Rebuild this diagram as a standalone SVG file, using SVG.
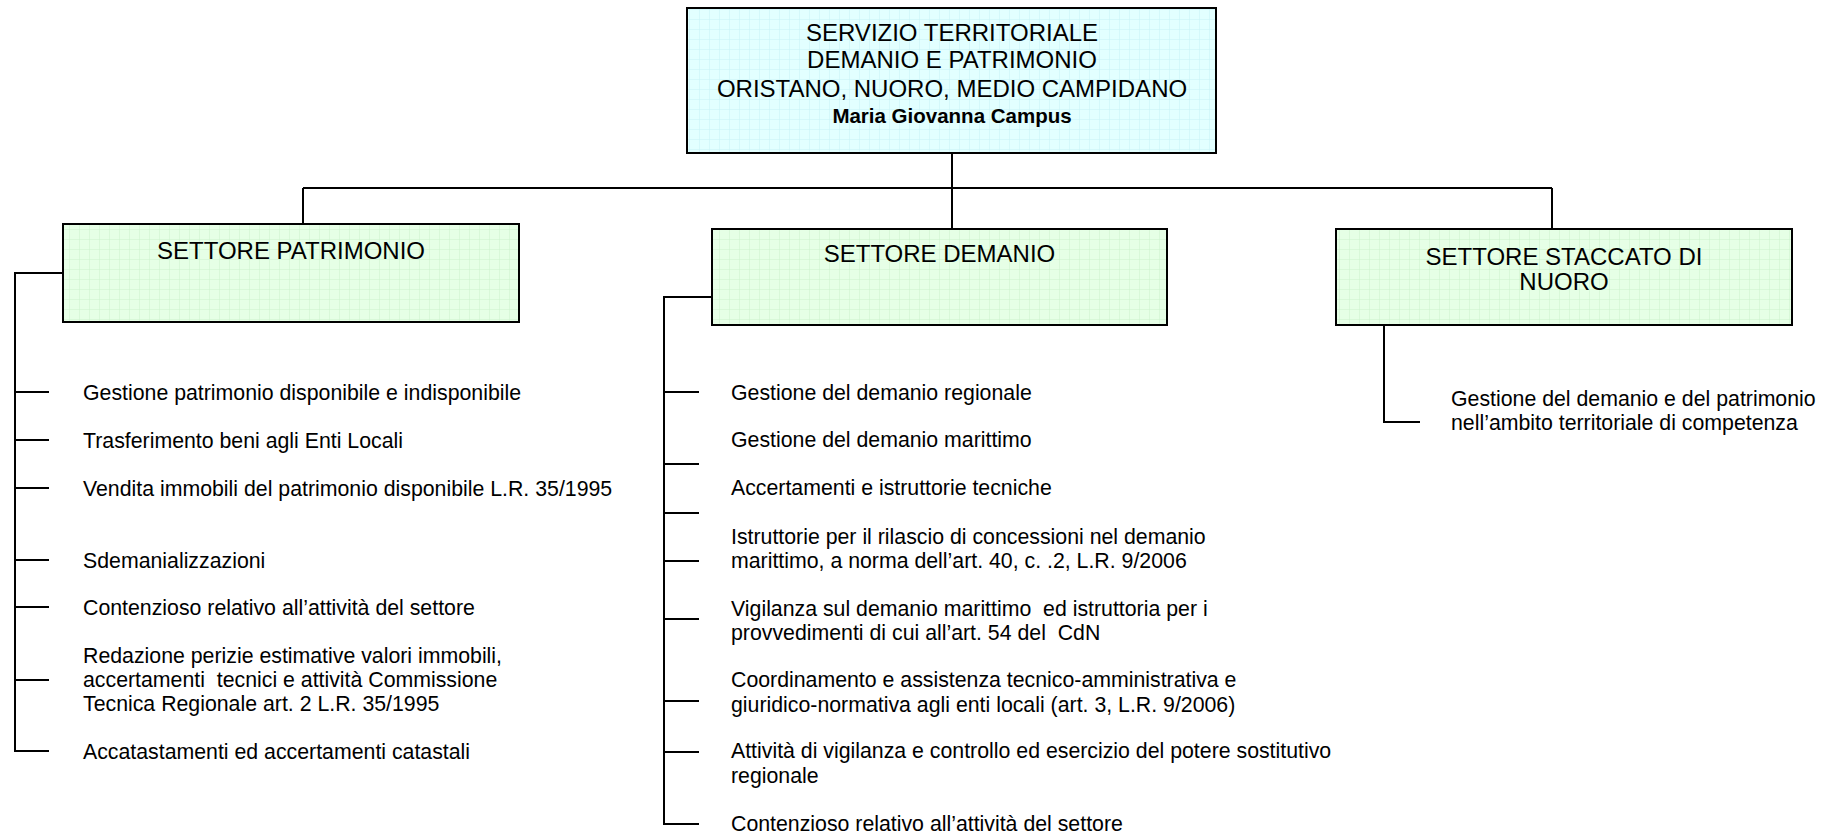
<svg xmlns="http://www.w3.org/2000/svg" width="1830" height="833" viewBox="0 0 1830 833">
<defs>
<pattern id="gridC" width="10" height="10" patternUnits="userSpaceOnUse">
<rect width="10" height="10" fill="#e2ffff"/>
<path d="M10 0V10M0 10H10" stroke="#c6f2f6" stroke-width="1" fill="none"/>
</pattern>
<pattern id="gridG" width="10" height="10" patternUnits="userSpaceOnUse">
<rect width="10" height="10" fill="#e6ffe6"/>
<path d="M10 0V10M0 10H10" stroke="#ccf2cc" stroke-width="1" fill="none"/>
</pattern>
<style>
.box{stroke:#000;stroke-width:2}
.t{font-family:"Liberation Sans",Arial,sans-serif;font-size:24px;fill:#000;text-anchor:middle}
.b{font-family:"Liberation Sans",Arial,sans-serif;font-size:20.5px;font-weight:bold;fill:#000;text-anchor:middle}
.i{font-family:"Liberation Sans",Arial,sans-serif;font-size:21.3px;fill:#000;white-space:pre}
.c{stroke:#000;stroke-width:2;fill:none}
</style>
</defs>
<rect width="1830" height="833" fill="#fff"/>
<g id="connectors">
<path class="c" d="M952 153V188M303 188H1552M303 188V224M952 188V229M1552 188V229"/>
<path class="c" d="M63 273H15V751H49M15 392H49M15 440H49M15 488H49M15 560H49M15 607H49M15 680H49"/>
<path class="c" d="M712 297H664V824H699M664 392H699M664 464H699M664 513H699M664 561H699M664 619H699M664 701H699M664 752H699"/>
<path class="c" d="M1384 324V422H1420"/>
</g>
<g id="servizio">
<rect class="box" x="687" y="8" width="529" height="145" fill="url(#gridC)"/>
<text class="t" x="952" y="40.5">SERVIZIO TERRITORIALE</text>
<text class="t" x="952" y="67.5">DEMANIO E PATRIMONIO</text>
<text class="t" x="952" y="96.5">ORISTANO, NUORO, MEDIO CAMPIDANO</text>
<text class="b" x="952" y="122.5">Maria Giovanna Campus</text>
</g>
<g id="settore-patrimonio">
<rect class="box" x="63" y="224" width="456" height="98" fill="url(#gridG)"/>
<text class="t" x="291" y="258.5">SETTORE PATRIMONIO</text>
</g>
<g id="settore-demanio">
<rect class="box" x="712" y="229" width="455" height="96" fill="url(#gridG)"/>
<text class="t" x="939.5" y="261.5">SETTORE DEMANIO</text>
</g>
<g id="settore-nuoro">
<rect class="box" x="1336" y="229" width="456" height="96" fill="url(#gridG)"/>
<text class="t" x="1564" y="264.5">SETTORE STACCATO DI</text>
<text class="t" x="1564" y="289.5">NUORO</text>
</g>
<g id="patrimonio-items" xml:space="preserve">
<text class="i" x="83" y="399.5">Gestione patrimonio disponibile e indisponibile</text>
<text class="i" x="83" y="447.5">Trasferimento beni agli Enti Locali</text>
<text class="i" x="83" y="495.5">Vendita immobili del patrimonio disponibile L.R. 35/1995</text>
<text class="i" x="83" y="567.5">Sdemanializzazioni</text>
<text class="i" x="83" y="614.5">Contenzioso relativo all’attività del settore</text>
<text class="i" x="83" y="663">Redazione perizie estimative valori immobili,</text>
<text class="i" x="83" y="687">accertamenti  tecnici e attività Commissione</text>
<text class="i" x="83" y="711">Tecnica Regionale art. 2 L.R. 35/1995</text>
<text class="i" x="83" y="758.5">Accatastamenti ed accertamenti catastali</text>
</g>
<g id="demanio-items" xml:space="preserve">
<text class="i" x="731" y="399.5">Gestione del demanio regionale</text>
<text class="i" x="731" y="447">Gestione del demanio marittimo</text>
<text class="i" x="731" y="495">Accertamenti e istruttorie tecniche</text>
<text class="i" x="731" y="543.5">Istruttorie per il rilascio di concessioni nel demanio</text>
<text class="i" x="731" y="567.5">marittimo, a norma dell’art. 40, c. .2, L.R. 9/2006</text>
<text class="i" x="731" y="615.5">Vigilanza sul demanio marittimo  ed istruttoria per i</text>
<text class="i" x="731" y="639.5">provvedimenti di cui all’art. 54 del  CdN</text>
<text class="i" x="731" y="686.5">Coordinamento e assistenza tecnico-amministrativa e</text>
<text class="i" x="731" y="711.5">giuridico-normativa agli enti locali (art. 3, L.R. 9/2006)</text>
<text class="i" x="731" y="757.5">Attività di vigilanza e controllo ed esercizio del potere sostitutivo</text>
<text class="i" x="731" y="782.5">regionale</text>
<text class="i" x="731" y="830.5">Contenzioso relativo all’attività del settore</text>
</g>
<g id="nuoro-items">
<text class="i" x="1451" y="405.5">Gestione del demanio e del patrimonio</text>
<text class="i" x="1451" y="429.5">nell’ambito territoriale di competenza</text>
</g>
</svg>
